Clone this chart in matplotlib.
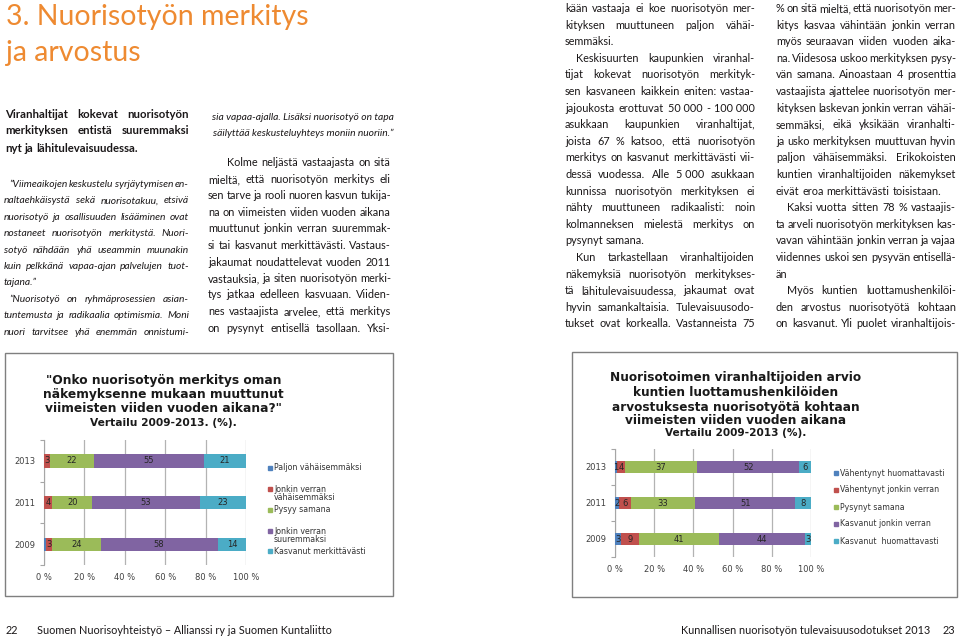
"""Sivuaukeama: nuorisotyön merkitys ja arvostus — teksti ja kaksi pinottua palkkikuviota."""

import matplotlib
matplotlib.use("Agg")
import matplotlib.pyplot as plt
import numpy as np
from matplotlib.font_manager import FontProperties, fontManager
from matplotlib.patches import Rectangle

W, H = 960, 639

# --- kuvio 1: "Onko nuorisotyön merkitys ... muuttunut" (%) ---
years = ["2009", "2011", "2013"]
c1_labels = ["Paljon vähäisemmäksi", "Jonkin verran\nvähäisemmäksi", "Pysyy samana",
             "Jonkin verran\nsuuremmaksi", "Kasvanut merkittävästi"]
c1_paljon_vah = [1, 0, 0]
c1_jonkin_vah = [3, 4, 3]
c1_pysyy = [24, 20, 22]
c1_jonkin_suur = [58, 53, 55]
c1_kasvanut = [14, 23, 21]

# --- kuvio 2: luottamushenkilöiden arvostus (%) ---
c2_labels = ["Vähentynyt huomattavasti", "Vähentynyt jonkin verran", "Pysynyt samana",
             "Kasvanut jonkin verran", "Kasvanut  huomattavasti"]
c2_vah_huom = [3, 2, 1]
c2_vah_jonk = [9, 6, 4]
c2_pysynyt = [41, 33, 37]
c2_kasv_jonk = [44, 51, 52]
c2_kasv_huom = [3, 8, 6]

pct_ticks = [0, 20, 40, 60, 80, 100]
xl_colors = ["#4F81BD", "#C0504D", "#9BBB59", "#8064A2", "#4BACC6"]

# --- leipäteksti (\t = sisennys, ¶ = kappaleen viimeinen rivi) ---
lead = ["Viranhaltijat kokevat nuorisotyön",
        "merkityksen entistä suuremmaksi",
        "nyt ja lähitulevaisuudessa.¶"]
quote1 = ["\t”Viimeaikojen keskustelu syrjäytymisen en-",
          "naltaehkäisystä sekä nuorisotakuu, etsivä",
          "nuorisotyö ja osallisuuden lisääminen ovat",
          "nostaneet nuorisotyön merkitystä. Nuori-",
          "sotyö nähdään yhä useammin muunakin",
          "kuin pelkkänä vapaa-ajan palvelujen tuot-",
          "tajana.”¶",
          "\t”Nuorisotyö on ryhmäprosessien asian-",
          "tuntemusta ja radikaalia optimismia. Moni",
          "nuori tarvitsee yhä enemmän onnistumi-"]
quote2 = ["sia vapaa-ajalla. Lisäksi nuorisotyö on tapa",
          "säilyttää keskusteluyhteys moniin nuoriin.”"]
col2 = ["\tKolme neljästä vastaajasta on sitä",
        "mieltä, että nuorisotyön merkitys eli",
        "sen tarve ja rooli nuoren kasvun tukija-",
        "na on viimeisten viiden vuoden aikana",
        "muuttunut jonkin verran suuremmak-",
        "si tai kasvanut merkittävästi. Vastaus-",
        "jakaumat noudattelevat vuoden 2011",
        "vastauksia, ja siten nuorisotyön merki-",
        "tys jatkaa edelleen kasvuaan. Viiden-",
        "nes vastaajista arvelee, että merkitys",
        "on pysynyt entisellä tasollaan. Yksi-"]
col3 = ["kään vastaaja ei koe nuorisotyön mer-",
        "kityksen muuttuneen paljon vähäi-",
        "semmäksi.¶",
        "\tKeskisuurten kaupunkien viranhal-",
        "tijat kokevat nuorisotyön merkityk-",
        "sen kasvaneen kaikkein eniten: vastaa-",
        "jajoukosta erottuvat 50\u00a0000 - 100\u00a0000",
        "asukkaan kaupunkien viranhaltijat,",
        "joista 67 % katsoo, että nuorisotyön",
        "merkitys on kasvanut merkittävästi vii-",
        "dessä vuodessa. Alle 5\u00a0000 asukkaan",
        "kunnissa nuorisotyön merkityksen ei",
        "nähty muuttuneen radikaalisti: noin",
        "kolmanneksen mielestä merkitys on",
        "pysynyt samana.¶",
        "\tKun tarkastellaan viranhaltijoiden",
        "näkemyksiä nuorisotyön merkitykses-",
        "tä lähitulevaisuudessa, jakaumat ovat",
        "hyvin samankaltaisia. Tulevaisuusodo-",
        "tukset ovat korkealla. Vastanneista 75"]
col4 = ["% on sitä mieltä, että nuorisotyön mer-",
        "kitys kasvaa vähintään jonkin verran",
        "myös seuraavan viiden vuoden aika-",
        "na. Viidesosa uskoo merkityksen pysy-",
        "vän samana. Ainoastaan 4 prosenttia",
        "vastaajista ajattelee nuorisotyön mer-",
        "kityksen laskevan jonkin verran vähäi-",
        "semmäksi, eikä yksikään viranhalti-",
        "ja usko merkityksen muuttuvan hyvin",
        "paljon vähäisemmäksi. Erikokoisten",
        "kuntien viranhaltijoiden näkemykset",
        "eivät eroa merkittävästi toisistaan.¶",
        "\tKaksi vuotta sitten 78 % vastaajis-",
        "ta arveli nuorisotyön merkityksen kas-",
        "vavan vähintään jonkin verran ja vajaa",
        "viidennes uskoi sen pysyvän entisellä-",
        "än¶",
        "\tMyös kuntien luottamushenkilöi-",
        "den arvostus nuorisotyötä kohtaan",
        "on kasvanut. Yli puolet viranhaltijois-"]

INK = "#1a1718"
ORANGE = "#EE8A31"
installed = {f.name for f in fontManager.ttflist}
BODY = "Lato" if "Lato" in installed else "DejaVu Sans"
NARROW = "Liberation Sans Narrow" if "Liberation Sans Narrow" in installed else BODY

fig = plt.figure(figsize=(W / 100, H / 100), dpi=100)
fig.patch.set_facecolor("white")
renderer = fig.canvas.get_renderer()


def fx(x):
    return x / W


def fy(y):
    return 1 - y / H


def text_w(s, fp):
    w, _, _ = renderer.get_text_width_height_descent(s, fp, ismath=False)
    return w


def put_line(s, x0, x1, y, fp, justify=True, color=INK):
    words = s.split(" ")
    ws = [text_w(w, fp) for w in words]
    sp = text_w("n n", fp) - text_w("nn", fp)
    gap = sp
    if justify and len(words) > 1:
        gap = (x1 - x0 - sum(ws)) / (len(words) - 1)
        if gap < 0.4 * sp:
            # liian pitkä rivi palstaan: pienennetään hieman
            k = (x1 - x0) / (sum(ws) + 0.4 * sp * (len(words) - 1))
            fp = fp.copy()
            fp.set_size(fp.get_size_in_points() * k)
            ws = [w * k for w in ws]
            gap = 0.4 * sp * k
    x = x0
    for w, wd in zip(words, ws):
        fig.text(fx(x), fy(y), w, fontproperties=fp, color=color, va="baseline", ha="left")
        x += wd + gap


def put_column(lines, x0, x1, y0, dy, fp, indent=11):
    for i, s in enumerate(lines):
        xs = x0
        if s.startswith("\t"):
            s = s[1:]
            xs = x0 + indent
        last = s.endswith("¶")
        s = s.rstrip("¶")
        put_line(s, xs, x1, y0 + i * dy, fp, justify=not last)


# otsikko
fp_title = FontProperties(family=BODY, size=20)
k = 302 / text_w("3. Nuorisotyön merkitys", fp_title)
fp_title.set_size(20 * k)
fig.text(fx(6), fy(25), "3. Nuorisotyön merkitys", fontproperties=fp_title, color=ORANGE, va="baseline")
fig.text(fx(6), fy(61), "ja arvostus", fontproperties=fp_title, color=ORANGE, va="baseline")

# leipätekstin koko: tiivis rivi täyttää palstan luonnollisilla väleillä
probe = FontProperties(family=BODY, size=8)
body_size = 1.02 * 8 * 182 / text_w("sen kasvaneen kaikkein eniten: vastaa-", probe)
fp_body = FontProperties(family=BODY, size=body_size)
fp_bold = FontProperties(family=BODY, size=body_size * 1.05, weight="bold")
fp_ital = FontProperties(family=BODY, size=body_size * 0.94, style="italic")

put_column(lead, 5, 189, 117.5, 17, fp_bold)
put_column(quote1, 4, 189, 187, 16.4, fp_ital, indent=5)
for s, y in zip(quote2, [120.5, 136.5]):
    w = text_w(s, fp_ital)
    fig.text(fx(303 - w / 2), fy(y), s, fontproperties=fp_ital, color=INK, va="baseline")
put_column(col2, 208, 391, 166.5, 16.5, fp_body, indent=19)
put_column(col3, 565, 755, 12, 16.6, fp_body)
put_column(col4, 776, 956, 12, 16.6, fp_body)


def stacked_chart(rect, series, colors, skip=()):
    l, t, r, b = rect
    ax = fig.add_axes([fx(l), fy(b), (r - l) / W, (b - t) / H])
    vals = np.array(series, dtype=float)
    pct = vals / vals.sum(axis=0) * 100
    pos = np.arange(len(years))
    left = np.zeros(len(years))
    for i, col in enumerate(colors):
        ax.barh(pos, pct[i], height=0.32, left=left, color=col, zorder=3)
        if i not in skip:
            for j in range(len(years)):
                if vals[i, j] > 0:
                    ax.text(left[j] + pct[i, j] / 2, pos[j], f"{vals[i, j]:.0f}", ha="center",
                            va="center", fontsize=6, color="#262626", zorder=4)
        left += pct[i]
    ax.set_xlim(0, 100)
    ax.set_ylim(-0.5, len(years) - 0.5)
    ax.set_xticks(pct_ticks)
    ax.set_xticklabels([f"{v} %" for v in pct_ticks])
    ax.set_yticks(pos)
    ax.set_yticklabels(years)
    ax.set_yticks(np.arange(-0.5, len(years), 1), minor=True)
    ax.tick_params(axis="both", which="major", length=0, labelsize=6, labelcolor="#404040", pad=6)
    ax.tick_params(axis="y", which="minor", length=3, color="#a6a6a6", width=0.8)
    ax.grid(axis="x", color="#b3b3b3", lw=0.9, zorder=0)
    for s in ["top", "right", "bottom"]:
        ax.spines[s].set_visible(False)
    ax.spines["left"].set_color("#a6a6a6")
    ax.set_facecolor("none")
    return ax


def frame(x0, y0, x1, y1):
    fig.patches.append(Rectangle((fx(x0), fy(y1)), (x1 - x0) / W, (y1 - y0) / H, fill=False,
                                 edgecolor="#7f7f7f", lw=1, transform=fig.transFigure))


def legend(labels, x, ys, fs):
    for lab, y, col in zip(labels, ys, xl_colors):
        fig.patches.append(Rectangle((fx(x - 2), fy(y + 2)), 4 / W, 4 / H, color=col,
                                     transform=fig.transFigure))
        for n, part in enumerate(lab.split("\n")):
            fig.text(fx(x + 4), fy(y + n * 9), part, fontsize=fs, color="#333333", va="center")


# kuvio 1
frame(5, 353, 393, 596)
for s, y in zip(['"Onko nuorisotyön merkitys oman', "näkemyksenne mukaan muuttunut",
                 'viimeisten viiden vuoden aikana?"'], [381, 394.5, 408]):
    fig.text(fx(163.5), fy(y), s, fontsize=8.8, weight="bold", color="#1a1a1a", ha="center", va="center")
fig.text(fx(163.5), fy(423), "Vertailu 2009-2013. (%).", fontsize=7.7, weight="bold", color="#1a1a1a",
         ha="center", va="center")
stacked_chart((44, 440, 246, 565),
              [c1_paljon_vah, c1_jonkin_vah, c1_pysyy, c1_jonkin_suur, c1_kasvanut],
              xl_colors, skip=(0,))
legend(c1_labels, 270, [468, 489, 510, 531, 551], 5.7)

# kuvio 2
frame(572, 352, 957, 597)
for s, y in zip(["Nuorisotoimen viranhaltijoiden arvio", "kuntien luottamushenkilöiden",
                 "arvostuksesta nuorisotyötä kohtaan", "viimeisten viiden vuoden aikana"],
                [378, 392.5, 407, 421]):
    fig.text(fx(735.5), fy(y), s, fontsize=8.7, weight="bold", color="#1a1a1a", ha="center", va="center")
fig.text(fx(735.5), fy(433.5), "Vertailu 2009-2013 (%).", fontsize=7.6, weight="bold", color="#1a1a1a",
         ha="center", va="center")
stacked_chart((615, 449, 811, 557),
              [c2_vah_huom, c2_vah_jonk, c2_pysynyt, c2_kasv_jonk, c2_kasv_huom],
              xl_colors)
legend(c2_labels, 836, [473, 490, 507, 523.5, 541], 5.6)

# alatunniste
fp_foot = FontProperties(family=NARROW, size=7.8)
fig.text(fx(6), fy(634), "22", fontproperties=fp_foot, color=INK, va="baseline")
fig.text(fx(37), fy(634), "Suomen Nuorisoyhteistyö – Allianssi ry ja Suomen Kuntaliitto",
         fontproperties=fp_foot, color=INK, va="baseline")
fig.text(fx(930), fy(634), "Kunnallisen nuorisotyön tulevaisuusodotukset 2013",
         fontproperties=fp_foot, color=INK, va="baseline", ha="right")
fig.text(fx(955), fy(634), "23", fontproperties=fp_foot, color=INK, va="baseline", ha="right")

fig.savefig("out.png", dpi=100)
